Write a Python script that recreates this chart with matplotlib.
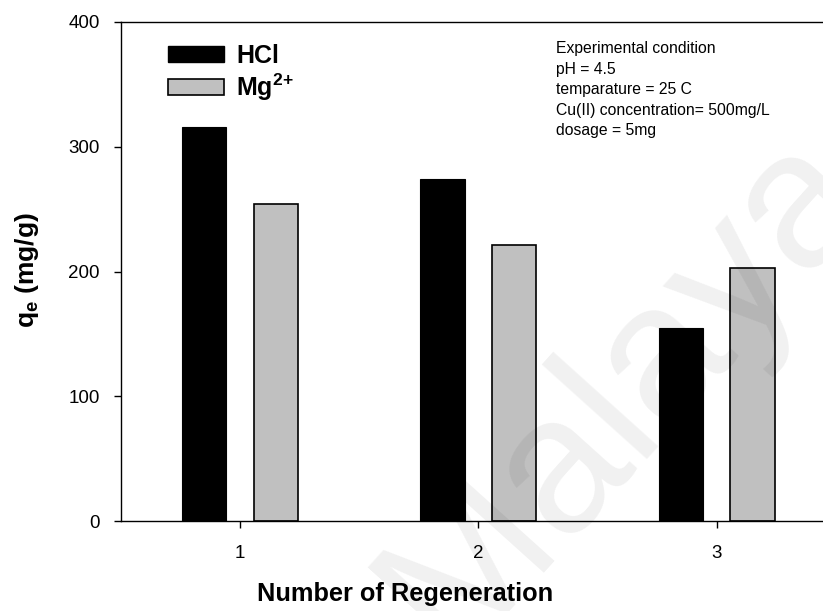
import matplotlib
matplotlib.use("Agg")
import matplotlib.pyplot as plt
from matplotlib.patches import Patch
import numpy as np

plt.rcParams['font.family'] = ['Liberation Sans', 'DejaVu Sans']
plt.rcParams['mathtext.fontset'] = 'custom'
plt.rcParams['mathtext.rm'] = 'Liberation Sans'
plt.rcParams['mathtext.bf'] = 'Liberation Sans:bold'

categories = [1, 2, 3]
hcl = [316, 274, 154.5]
mg = [254, 221, 203]
series_labels = ['HCl', r'Mg$^{\mathbf{2}{\mathbf{+}}}$']
yticks = [0, 100, 200, 300, 400]
condition_text = ("Experimental condition\npH = 4.5\ntemparature = 25 C\n"
                  "Cu(II) concentration= 500mg/L\ndosage = 5mg")

W, H = 823, 611
fig = plt.figure(figsize=(W / 100, H / 100), dpi=100)
ax = fig.add_axes([120.7 / W, 90 / H, 715.2 / W, 499 / H])

x = np.array(categories, dtype=float)
off, bw = 0.15, 0.185
ax.bar(x - off, hcl, width=bw, color='black', edgecolor='black', linewidth=0.8, zorder=2)
ax.bar(x + off, mg, width=bw, color='#c0c0c0', edgecolor='black', linewidth=1.2, zorder=2)

ax.set_xlim(0.5, 3.5)
ax.set_ylim(0, 400)
ax.set_xticks(categories)
ax.set_yticks(yticks)
ax.tick_params(axis='both', direction='out', length=5, width=1.0, labelsize=13.5)
ax.tick_params(axis='x', pad=12)
ax.tick_params(axis='y', pad=10)
for s in ax.spines.values():
    s.set_linewidth(1.0)

fig.text(405 / W, 1 - 594 / H, 'Number of Regeneration', ha='center', va='center',
         fontsize=18.3, fontweight='bold')
fig.text(27 / W, 1 - 270 / H, r'$\mathbf{q_e}$ (mg/g)', ha='center', va='center',
         rotation=90, fontsize=19, fontweight='bold')

handles = [Patch(facecolor='black', edgecolor='black', linewidth=1.0),
           Patch(facecolor='#c0c0c0', edgecolor='black', linewidth=1.2)]
leg = fig.legend(handles, series_labels, loc='upper left',
                 bbox_to_anchor=(168 / W, 1 - 44 / H), frameon=False,
                 prop={'weight': 'bold', 'size': 18}, handlelength=2.24,
                 handleheight=0.6, handletextpad=0.5, labelspacing=0.15,
                 borderpad=0, borderaxespad=0)

fig.text(556 / W, 1 - 41 / H, condition_text, ha='left', va='top',
         fontsize=11.3, linespacing=1.46)

fig.text(625 / W, 1 - 390 / H, 'Malaya', ha='center', va='center', rotation=48,
         fontsize=140, color='black', alpha=0.06, zorder=10)

fig.savefig('out.png', dpi=100)
